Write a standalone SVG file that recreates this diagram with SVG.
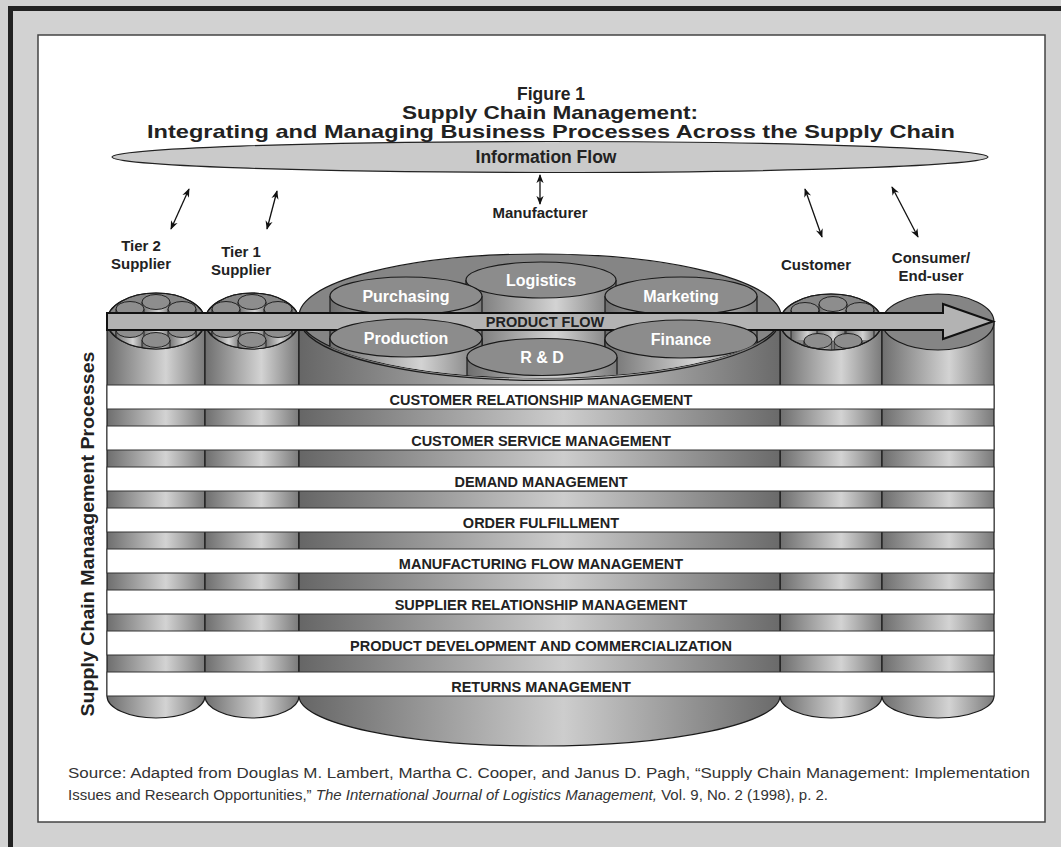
<svg xmlns="http://www.w3.org/2000/svg" width="1061" height="847" viewBox="0 0 1061 847">
<defs>
<style>
.t{font-family:'Liberation Sans',Arial,sans-serif;font-weight:bold;fill:#222;text-anchor:middle}
.ttl{font-size:19px}
.lab{font-size:15px}
.band{font-size:14.5px}
.in{font-size:16px;fill:#fff}
.src{font-family:'Liberation Sans',Arial,sans-serif;font-size:15.5px;fill:#333}
.ol{fill:none;stroke:#1a1a1a;stroke-width:1.2}
.wb{fill:#fff;stroke:#333;stroke-width:1}
.cn{fill:none;stroke:#111;stroke-width:1.3;marker-start:url(#ah);marker-end:url(#ah)}
.top{fill:#858585;stroke:#1a1a1a;stroke-width:1.2}
.cyl{stroke:#1a1a1a;stroke-width:1.2}
</style>
<linearGradient id="gS" x1="0" y1="0" x2="1" y2="0">
<stop offset="0" stop-color="#6e6e6e"/><stop offset="0.6" stop-color="#d3d3d3"/><stop offset="1" stop-color="#7a7a7a"/>
</linearGradient>
<linearGradient id="gB" x1="0" y1="0" x2="1" y2="0">
<stop offset="0" stop-color="#666666"/><stop offset="0.55" stop-color="#cdcdcd"/><stop offset="1" stop-color="#6a6a6a"/>
</linearGradient>
<marker id="ah" viewBox="0 0 10 10" refX="9" refY="5" markerWidth="9" markerHeight="9" markerUnits="userSpaceOnUse" orient="auto-start-reverse">
<path d="M0,1 L10,5 L0,9 L3,5 Z" fill="#111"/>
</marker>
<g id="sc">
<rect x="-14" y="0" width="28" height="30" fill="url(#gS)"/>
<path d="M-14,0 V30 M14,0 V30" stroke="#222" stroke-width="1"/>
<ellipse cx="0" cy="0" rx="14" ry="7.5" fill="#8d8d8d" stroke="#222" stroke-width="1"/>
</g>
<clipPath id="cT2"><ellipse cx="156" cy="321" rx="49" ry="28"/></clipPath>
<clipPath id="cT1"><ellipse cx="252" cy="321" rx="47" ry="28"/></clipPath>
<clipPath id="cC"><ellipse cx="831" cy="322" rx="51" ry="28"/></clipPath>
<clipPath id="cM"><ellipse cx="540" cy="316" rx="241" ry="62"/></clipPath>
</defs>

<!-- frame -->
<rect x="0" y="0" width="1061" height="847" fill="#d2d2d2"/>
<path d="M10.5,847 V8.5 H1061" fill="none" stroke="#222" stroke-width="5"/>
<rect x="38" y="35" width="1007" height="787" fill="#fff" stroke="#444" stroke-width="1.5"/>

<!-- title -->
<g id="title">
<text class="t ttl" x="551" y="100" textLength="68" lengthAdjust="spacingAndGlyphs">Figure 1</text>
<text class="t ttl" x="550" y="119" textLength="296" lengthAdjust="spacingAndGlyphs">Supply Chain Management:</text>
<text class="t ttl" x="551" y="138" textLength="808" lengthAdjust="spacingAndGlyphs">Integrating and Managing Business Processes Across the Supply Chain</text>
</g>

<!-- information flow -->
<g id="info-flow">
<ellipse cx="550" cy="157" rx="438" ry="15.5" fill="#cacaca" stroke="#222" stroke-width="1.2"/>
<text class="t" x="546" y="163" font-size="17.5">Information Flow</text>
</g>

<!-- connectors -->
<g id="connectors">
<line class="cn" x1="189" y1="189" x2="171" y2="229"/>
<line class="cn" x1="277" y1="191" x2="267" y2="229"/>
<line class="cn" x1="540" y1="175" x2="540" y2="204"/>
<line class="cn" x1="805" y1="189" x2="822" y2="237"/>
<line class="cn" x1="892" y1="187" x2="918" y2="237"/>
</g>

<!-- labels -->
<g id="labels">
<text class="t lab" x="141" y="251">Tier 2</text>
<text class="t lab" x="141" y="269">Supplier</text>
<text class="t lab" x="241" y="257">Tier 1</text>
<text class="t lab" x="241" y="275">Supplier</text>
<text class="t lab" x="540" y="218">Manufacturer</text>
<text class="t lab" x="816" y="270">Customer</text>
<text class="t lab" x="931" y="263">Consumer/</text>
<text class="t lab" x="931" y="281">End-user</text>
</g>

<!-- cylinders -->
<g id="tier2">
<path class="cyl" d="M107,321 V696 A49,22 0 0 0 205,696 V321 Z" fill="url(#gS)"/>
<ellipse class="top" cx="156" cy="321" rx="49" ry="28" fill="#7e7e7e"/>
<g clip-path="url(#cT2)">
<use href="#sc" x="156" y="302"/>
<use href="#sc" x="130" y="309"/>
<use href="#sc" x="182" y="309"/>
<use href="#sc" x="156" y="321"/>
<use href="#sc" x="130" y="330"/>
<use href="#sc" x="182" y="330"/>
<use href="#sc" x="156" y="340"/>
</g>
<ellipse class="ol" cx="156" cy="321" rx="49" ry="28"/>
</g>

<g id="tier1">
<path class="cyl" d="M205,321 V696 A47,22 0 0 0 299,696 V321 Z" fill="url(#gS)"/>
<ellipse class="top" cx="252" cy="321" rx="47" ry="28" fill="#7e7e7e"/>
<g clip-path="url(#cT1)">
<use href="#sc" x="252" y="302"/>
<use href="#sc" x="226" y="309"/>
<use href="#sc" x="278" y="309"/>
<use href="#sc" x="252" y="321"/>
<use href="#sc" x="226" y="330"/>
<use href="#sc" x="278" y="330"/>
<use href="#sc" x="252" y="340"/>
</g>
<ellipse class="ol" cx="252" cy="321" rx="47" ry="28"/>
</g>

<g id="customer">
<path class="cyl" d="M780,322 V696 A51,22 0 0 0 882,696 V322 Z" fill="url(#gS)"/>
<ellipse class="top" cx="831" cy="322" rx="51" ry="28" fill="#7e7e7e"/>
<g clip-path="url(#cC)">
<use href="#sc" x="833" y="304"/>
<use href="#sc" x="805" y="310"/>
<use href="#sc" x="860" y="310"/>
<use href="#sc" x="831" y="322"/>
<use href="#sc" x="818" y="341"/>
<use href="#sc" x="848" y="341"/>
</g>
<ellipse class="ol" cx="831" cy="322" rx="51" ry="28"/>
</g>

<g id="consumer">
<path class="cyl" d="M882,322 V696 A56,22 0 0 0 994,696 V322 Z" fill="url(#gS)"/>
<ellipse class="top" cx="938" cy="322" rx="56" ry="28"/>
</g>

<g id="manufacturer">
<path class="cyl" d="M299,316 V696 A240.5,50 0 0 0 780,696 V316 Z" fill="url(#gB)"/>
<ellipse class="top" cx="540" cy="316" rx="241" ry="62" fill="#7c7c7c"/>
<g clip-path="url(#cM)">
<g id="logistics">
<rect x="466" y="280" width="150" height="90" fill="url(#gS)"/>
<path d="M466,280 V370 M616,280 V370" stroke="#1a1a1a" stroke-width="1.2"/>
<ellipse cx="541" cy="280" rx="75" ry="18" fill="#8c8c8c" stroke="#1a1a1a" stroke-width="1.2"/>
<text class="t in" x="541" y="286">Logistics</text>
</g>
<g id="purchasing">
<rect x="330" y="296" width="152" height="90" fill="url(#gS)"/>
<path d="M330,296 V386 M482,296 V386" stroke="#1a1a1a" stroke-width="1.2"/>
<ellipse cx="406" cy="296" rx="76" ry="19" fill="#8c8c8c" stroke="#1a1a1a" stroke-width="1.2"/>
<text class="t in" x="406" y="302">Purchasing</text>
</g>
<g id="marketing">
<rect x="605" y="296" width="152" height="90" fill="url(#gS)"/>
<path d="M605,296 V386 M757,296 V386" stroke="#1a1a1a" stroke-width="1.2"/>
<ellipse cx="681" cy="296" rx="76" ry="19" fill="#8c8c8c" stroke="#1a1a1a" stroke-width="1.2"/>
<text class="t in" x="681" y="302">Marketing</text>
</g>
</g>
</g>

<!-- product flow arrow -->
<g id="product-flow">
<path d="M107,313 H943 V304 L993,321.5 L943,339 V330 H107 Z" fill="#b3b3b3" stroke="#111" stroke-width="2"/>
<text class="t" x="545" y="327" font-size="14.5">PRODUCT FLOW</text>
</g>

<g id="manufacturer-front" clip-path="url(#cM)">
<g id="production">
<rect x="330" y="338" width="152" height="70" fill="url(#gS)"/>
<path d="M330,338 V408 M482,338 V408" stroke="#1a1a1a" stroke-width="1.2"/>
<ellipse cx="406" cy="338" rx="76" ry="19" fill="#8c8c8c" stroke="#1a1a1a" stroke-width="1.2"/>
<text class="t in" x="406" y="344">Production</text>
</g>
<g id="finance">
<rect x="605" y="339" width="152" height="70" fill="url(#gS)"/>
<path d="M605,339 V409 M757,339 V409" stroke="#1a1a1a" stroke-width="1.2"/>
<ellipse cx="681" cy="339" rx="76" ry="19" fill="#8c8c8c" stroke="#1a1a1a" stroke-width="1.2"/>
<text class="t in" x="681" y="345">Finance</text>
</g>
<g id="rnd">
<rect x="467" y="357" width="150" height="60" fill="url(#gS)"/>
<path d="M467,357 V417 M617,357 V417" stroke="#1a1a1a" stroke-width="1.2"/>
<ellipse cx="542" cy="357" rx="75" ry="18.5" fill="#8c8c8c" stroke="#1a1a1a" stroke-width="1.2"/>
<text class="t in" x="542" y="363">R &amp; D</text>
</g>
</g>
<path d="M304.1,331 A241,62 0 0 0 775.9,331" class="ol"/>

<!-- process bands -->
<g id="processes">
<rect class="wb" x="107" y="385" width="887" height="24"/>
<rect class="wb" x="107" y="426" width="887" height="24"/>
<rect class="wb" x="107" y="467" width="887" height="24"/>
<rect class="wb" x="107" y="508" width="887" height="24"/>
<rect class="wb" x="107" y="549" width="887" height="24"/>
<rect class="wb" x="107" y="590" width="887" height="24"/>
<rect class="wb" x="107" y="631" width="887" height="24"/>
<rect class="wb" x="107" y="672" width="887" height="24"/>
<text class="t band" x="541" y="405">CUSTOMER RELATIONSHIP MANAGEMENT</text>
<text class="t band" x="541" y="446">CUSTOMER SERVICE MANAGEMENT</text>
<text class="t band" x="541" y="487">DEMAND MANAGEMENT</text>
<text class="t band" x="541" y="528">ORDER FULFILLMENT</text>
<text class="t band" x="541" y="569">MANUFACTURING FLOW MANAGEMENT</text>
<text class="t band" x="541" y="610">SUPPLIER RELATIONSHIP MANAGEMENT</text>
<text class="t band" x="541" y="651">PRODUCT DEVELOPMENT AND COMMERCIALIZATION</text>
<text class="t band" x="541" y="692">RETURNS MANAGEMENT</text>
</g>

<text class="t" font-size="18" transform="translate(94,534) rotate(-90)" textLength="365" lengthAdjust="spacingAndGlyphs">Supply Chain Manaagement Processes</text>

<!-- source -->
<g id="source">
<text class="src" x="68" y="778" textLength="962" lengthAdjust="spacingAndGlyphs">Source: Adapted from Douglas M. Lambert, Martha C. Cooper, and Janus D. Pagh, “Supply Chain Management: Implementation</text>
<text class="src" x="68" y="800" textLength="760" lengthAdjust="spacingAndGlyphs">Issues and Research Opportunities,” <tspan font-style="italic">The International Journal of Logistics Management,</tspan> Vol. 9, No. 2 (1998), p. 2.</text>
</g>
</svg>
